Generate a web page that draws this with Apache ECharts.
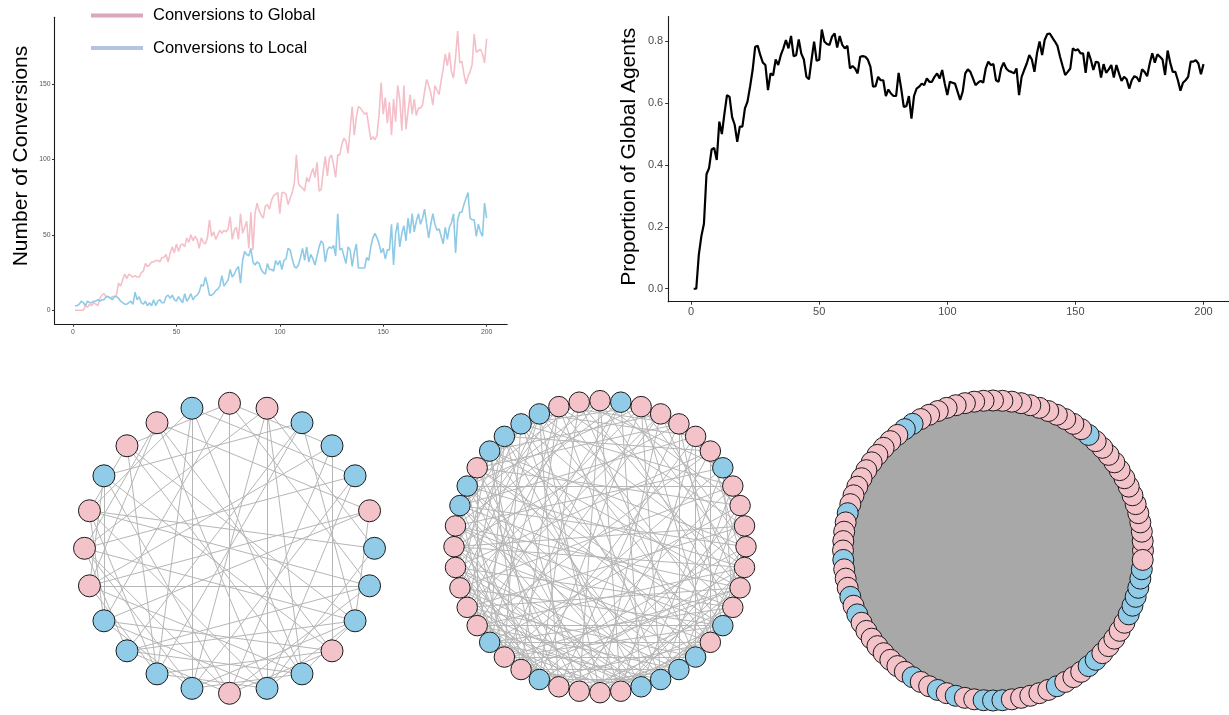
<!DOCTYPE html>
<html>
<head>
<meta charset="utf-8">
<script src="https://cdn.jsdelivr.net/npm/echarts@6/dist/echarts.min.js"></script>
<style>
  html, body { margin: 0; padding: 0; background: #ffffff; }
  #main { width: 1229px; height: 715px; }
</style>
</head>
<body>
<div id="main"></div>
<script>
// ---- time series (one value per simulation step, steps 1..200) ----
const steps = Array.from({ length: 200 }, (_, i) => i + 1);

const toGlobal = [
  0, 0, 0, 0, 0, 3, 2, 4, 3, 5,
  4, 3, 8, 10, 11, 9, 9, 8, 9, 9,
  10, 18, 16, 20, 24, 21, 24, 23, 22, 23,
  22, 22, 25, 26, 31, 29, 30, 32, 32, 33,
  33, 32, 35, 35, 37, 32, 38, 42, 38, 44,
  39, 43, 44, 42, 48, 45, 50, 46, 49, 47,
  41, 48, 45, 44, 48, 60, 49, 52, 47, 50,
  53, 51, 53, 52, 54, 62, 47, 53, 55, 47,
  64, 51, 55, 59, 41, 65, 40, 64, 71, 66,
  63, 61, 69, 70, 67, 73, 76, 77, 78, 64,
  78, 78, 77, 70, 74, 78, 84, 103, 84, 82,
  81, 79, 88, 85, 90, 94, 88, 98, 79, 80,
  92, 102, 89, 101, 103, 96, 88, 103, 103, 110,
  114, 112, 104, 120, 135, 116, 128, 135, 134, 132,
  130, 131, 122, 113, 115, 113, 116, 130, 151, 130,
  141, 124, 138, 116, 140, 125, 149, 140, 119, 149,
  120, 132, 143, 130, 140, 129, 134, 134, 136, 145,
  153, 149, 144, 136, 149, 146, 143, 152, 160, 170,
  162, 171, 158, 154, 168, 185, 164, 165, 157, 150,
  155, 158, 163, 183, 171, 172, 173, 170, 164, 180
];

const toLocal = [
  3, 3, 4, 6, 5, 3, 6, 5, 5, 6,
  6, 7, 6, 7, 7, 9, 9, 8, 7, 9,
  9, 8, 6, 5, 4, 4, 5, 6, 4, 12,
  7, 9, 5, 4, 6, 3, 5, 3, 7, 3,
  6, 7, 5, 5, 9, 10, 8, 10, 7, 6,
  9, 7, 5, 11, 6, 8, 11, 7, 9, 10,
  12, 17, 16, 22, 17, 10, 10, 11, 13, 14,
  16, 23, 16, 18, 20, 27, 22, 24, 27, 29,
  18, 33, 39, 37, 36, 41, 32, 30, 32, 31,
  27, 25, 24, 31, 27, 27, 26, 33, 30, 33,
  27, 33, 34, 41, 40, 34, 29, 28, 30, 35,
  41, 33, 42, 32, 37, 34, 30, 36, 42, 46,
  44, 32, 40, 42, 41, 43, 36, 64, 40, 41,
  36, 31, 42, 40, 29, 38, 44, 28, 28, 28,
  28, 35, 33, 42, 48, 51, 48, 44, 38, 41,
  34, 40, 40, 57, 30, 51, 58, 42, 51, 56,
  46, 61, 51, 64, 52, 59, 64, 57, 61, 67,
  57, 48, 57, 64, 57, 53, 54, 49, 44, 55,
  47, 55, 58, 64, 38, 60, 65, 65, 70, 74,
  78, 61, 60, 60, 49, 57, 52, 49, 71, 61
];

const globalShare = [
  0, 0, 0.11, 0.17, 0.21, 0.37, 0.39, 0.45, 0.455, 0.416,
  0.54, 0.5, 0.566, 0.626, 0.62, 0.555, 0.53, 0.475, 0.524, 0.524,
  0.583, 0.605, 0.653, 0.707, 0.782, 0.785, 0.755, 0.731, 0.723, 0.642,
  0.696, 0.69, 0.741, 0.723, 0.755, 0.777, 0.804, 0.777, 0.817, 0.752,
  0.755, 0.806, 0.76, 0.741, 0.685, 0.677, 0.74, 0.799, 0.737, 0.74,
  0.838, 0.799, 0.791, 0.788, 0.815, 0.825, 0.78, 0.817, 0.788, 0.777,
  0.785, 0.712, 0.72, 0.712, 0.696, 0.75, 0.752, 0.75, 0.74, 0.717,
  0.653, 0.655, 0.685, 0.674, 0.674, 0.623, 0.644, 0.631, 0.623, 0.623,
  0.698, 0.647, 0.588, 0.59, 0.623, 0.55, 0.623, 0.647, 0.653, 0.663,
  0.658, 0.68, 0.669, 0.669, 0.685, 0.696, 0.68, 0.707, 0.663, 0.626,
  0.669, 0.666, 0.663, 0.637, 0.61, 0.637, 0.696, 0.709, 0.701, 0.68,
  0.658, 0.666, 0.672, 0.666, 0.712, 0.734, 0.723, 0.726, 0.674, 0.669,
  0.712, 0.731, 0.712, 0.704, 0.701, 0.696, 0.712, 0.626, 0.685, 0.707,
  0.728, 0.755, 0.741, 0.701, 0.761, 0.799, 0.755, 0.804, 0.823, 0.825,
  0.812, 0.799, 0.785, 0.75, 0.72, 0.691, 0.701, 0.712, 0.777, 0.77,
  0.774, 0.761, 0.761, 0.698, 0.766, 0.741, 0.707, 0.734, 0.731, 0.683,
  0.726, 0.698, 0.709, 0.723, 0.683, 0.723, 0.696, 0.672, 0.685, 0.677,
  0.647, 0.674, 0.687, 0.683, 0.669, 0.709, 0.701, 0.687, 0.728, 0.761,
  0.731, 0.758, 0.75, 0.741, 0.691, 0.77, 0.731, 0.701, 0.701, 0.674,
  0.64, 0.666, 0.674, 0.685, 0.734, 0.734, 0.739, 0.728, 0.693, 0.726
];

const stepTicks = [0, 50, 100, 150, 200];
const conversionTicks = [0, 50, 100, 150];
const shareTicks = [0, 0.2, 0.4, 0.6, 0.8];

// ---- networks: agent types around each ring, counter-clockwise from 3 o'clock ----
// G = global agent, L = local agent
const ringSmall = 'LGLLLGGLGGLGGGLLLLGLLGLL';
const ringMedium = 'GGGGLGGGGGLGGGLLLLGLLGGGGGGLGGLGGGGLLLLGLGGG';
const ringLarge =
  'GGGGGGGGGG' + 'GGGGLGGGGG' + 'GGGGGGGGGG' + 'GGGGLLGGGG' + 'GGGGGGLGGG' +
  'GLGGGLGLGG' + 'GGGGGGLGGL' + 'GLGGLLLGGG' + 'GGLGGGLLGG' + 'GGGLLLLLLG';

// neighbour lists (each entry lists higher-numbered agents linked to agent i)
const edgesSmall = [
  [5, 11, 19], [8, 13, 14, 22], [7, 12, 17, 19], [6, 13, 18, 21],
  [10, 15, 16, 22], [12, 17, 19, 20], [9, 14, 18, 23], [11, 16, 17, 20],
  [12, 13, 19, 21], [11, 16, 20, 22], [13, 14, 18, 21], [14, 16, 19, 23],
  [15, 17, 18, 22], [16, 20, 23], [17, 19, 21], [18, 20, 22, 23],
  [19, 21], [20, 22], [21, 23], [22], [22]
];

const edgesMedium = [
  [3, 9, 17, 20, 29, 34, 38], [6, 13, 22, 25, 31, 40], [5, 11, 18, 27, 33, 37, 42],
  [7, 15, 19, 24, 30, 36], [8, 12, 21, 28, 35, 41], [9, 16, 23, 26, 32, 39, 43],
  [10, 14, 20, 29, 34, 38], [13, 18, 22, 31, 37, 40], [11, 17, 25, 27, 33, 42],
  [15, 19, 24, 30, 36, 39], [12, 21, 26, 28, 35, 43], [14, 20, 23, 32, 34, 41],
  [16, 19, 25, 30, 38, 42], [17, 22, 27, 29, 36, 40], [18, 24, 26, 31, 33, 39, 43],
  [21, 23, 28, 34, 37, 41], [20, 25, 27, 32, 35, 38], [19, 24, 29, 30, 36, 42],
  [22, 26, 31, 33, 39, 40], [23, 28, 32, 35, 37, 43], [24, 27, 30, 34, 36, 41],
  [25, 29, 31, 38, 40, 42], [24, 28, 30, 33, 35, 39, 43], [26, 30, 32, 35, 37, 41],
  [27, 29, 31, 34, 36, 40], [28, 31, 33, 35, 38, 42], [29, 32, 35, 37, 40, 43],
  [30, 32, 34, 36, 39, 41], [31, 33, 38, 40, 42], [32, 35, 37, 42],
  [33, 36, 39, 43], [34, 37, 41], [35, 38, 40], [36, 39, 42],
  [37, 40, 43], [38, 41], [39, 42], [40, 43], [41], [42], [43]
];

const FONT = "'Liberation Sans', Helvetica, Arial, sans-serif";
const GLOBAL_FILL = '#f4c3ca';
const LOCAL_FILL = '#90cce8';

function linksFromLists(lists) {
  const out = [];
  lists.forEach((targets, i) => targets.forEach(j => out.push({ source: i, target: j })));
  return out;
}

// the large ring is a fully connected network: every agent is linked to every other
function fullLinks(n) {
  const out = [];
  for (let i = 0; i < n; i++) for (let j = i + 1; j < n; j++) out.push({ source: i, target: j });
  return out;
}

function ringSeries(types, links, polarIndex, size, edgeColor) {
  return {
    type: 'graph',
    coordinateSystem: 'polar',
    polarIndex: polarIndex,
    symbol: 'circle',
    symbolSize: size,
    silent: true,
    animation: false,
    data: types.split('').map((c, i) => ({
      name: 'agent' + i,
      value: [1, i],
      itemStyle: { color: c === 'G' ? GLOBAL_FILL : LOCAL_FILL }
    })),
    links: links,
    itemStyle: { borderColor: '#1a1a1a', borderWidth: 1 },
    lineStyle: { color: edgeColor, width: 1, opacity: 1, curveness: 0 },
    label: { show: false },
    emphasis: { disabled: true }
  };
}

function ringPolar(center, radius) {
  return { center: center, radius: radius };
}

function hiddenAngle(polarIndex, n) {
  return { polarIndex, type: 'value', min: 0, max: n, startAngle: 0, clockwise: false, show: false };
}
function hiddenRadius(polarIndex) {
  return { polarIndex, type: 'value', min: 0, max: 1, show: false };
}

const axisLineStyle = { color: '#1a1a1a', width: 1.1 };

const option = {
  animation: false,
  backgroundColor: '#ffffff',
  textStyle: { fontFamily: FONT },
  legend: {
    orient: 'vertical',
    left: 91,
    top: 5.5,
    padding: 0,
    icon: 'rect',
    itemWidth: 52,
    itemHeight: 4,
    itemGap: 12.5,
    selectedMode: false,
    textStyle: { fontSize: 16.5, color: '#000', fontFamily: FONT, lineHeight: 20, padding: [0, 0, 0, 5] },
    data: [
      { name: 'Conversions to Global', itemStyle: { color: '#dba6be' } },
      { name: 'Conversions to Local', itemStyle: { color: '#b4c3e4' } }
    ]
  },
  grid: [
    { left: 54.5, top: 17.2, width: 452.7, height: 307, containLabel: false },
    { left: 668.2, top: 16.5, width: 564.4, height: 285.2, containLabel: false }
  ],
  xAxis: [
    {
      gridIndex: 0, type: 'value', min: -8.95, max: 209.95,
      axisLine: { show: true, onZero: false, lineStyle: axisLineStyle },
      axisTick: { show: true, length: 2.5, customValues: stepTicks, lineStyle: { color: '#333' } },
      axisLabel: { customValues: stepTicks, fontSize: 6.8, color: '#555', margin: 4, fontFamily: FONT },
      splitLine: { show: false }
    },
    {
      gridIndex: 1, type: 'value', min: -8.95, max: 209.95,
      axisLine: { show: true, onZero: false, lineStyle: axisLineStyle },
      axisTick: { show: true, length: 3, customValues: stepTicks, lineStyle: { color: '#333' } },
      axisLabel: { customValues: stepTicks, fontSize: 11, color: '#4d4d4d', margin: 4.5, fontFamily: FONT },
      splitLine: { show: false }
    }
  ],
  yAxis: [
    {
      gridIndex: 0, type: 'value', min: -9.25, max: 194.25,
      axisLine: { show: true, onZero: false, lineStyle: axisLineStyle },
      axisTick: { show: true, length: 2.5, customValues: conversionTicks, lineStyle: { color: '#333' } },
      axisLabel: { customValues: conversionTicks, fontSize: 6.8, color: '#555', margin: 4, fontFamily: FONT },
      splitLine: { show: false }
    },
    {
      gridIndex: 1, type: 'value', min: -0.0419, max: 0.88,
      axisLine: { show: true, onZero: false, lineStyle: axisLineStyle },
      axisTick: { show: true, length: 3, customValues: shareTicks, lineStyle: { color: '#333' } },
      axisLabel: {
        customValues: shareTicks, fontSize: 11, color: '#4d4d4d', margin: 5, fontFamily: FONT,
        formatter: v => Number(v).toFixed(1)
      },
      splitLine: { show: false }
    }
  ],
  polar: [
    ringPolar([229.5, 548.3], 145),
    ringPolar([600, 546.7], 146),
    ringPolar([993, 550.5], 150)
  ],
  angleAxis: [hiddenAngle(0, ringSmall.length), hiddenAngle(1, ringMedium.length), hiddenAngle(2, ringLarge.length)],
  radiusAxis: [hiddenRadius(0), hiddenRadius(1), hiddenRadius(2)],
  graphic: [
    {
      type: 'text', x: 21, y: 156, rotation: Math.PI / 2,
      style: { text: 'Number of Conversions', fontSize: 21, fontFamily: FONT, fill: '#000', align: 'center', verticalAlign: 'middle' }
    },
    {
      type: 'text', x: 629, y: 156.7, rotation: Math.PI / 2,
      style: { text: 'Proportion of Global Agents', fontSize: 21, fontFamily: FONT, fill: '#000', align: 'center', verticalAlign: 'middle' }
    }
  ],
  series: [
    {
      name: 'Conversions to Global', type: 'line', xAxisIndex: 0, yAxisIndex: 0,
      data: steps.map((t, i) => [t, toGlobal[i]]),
      showSymbol: false, symbol: 'none', silent: true,
      lineStyle: { color: '#f5bfc9', width: 1.6 }, itemStyle: { color: '#f5bfc9' }
    },
    {
      name: 'Conversions to Local', type: 'line', xAxisIndex: 0, yAxisIndex: 0,
      data: steps.map((t, i) => [t, toLocal[i]]),
      showSymbol: false, symbol: 'none', silent: true,
      lineStyle: { color: '#8ecae6', width: 1.6 }, itemStyle: { color: '#8ecae6' }
    },
    {
      name: 'Proportion of Global Agents', type: 'line', xAxisIndex: 1, yAxisIndex: 1,
      data: steps.map((t, i) => [t, globalShare[i]]),
      showSymbol: false, symbol: 'none', silent: true,
      lineStyle: { color: '#000000', width: 2.2 }, itemStyle: { color: '#000000' }
    },
    ringSeries(ringSmall, linksFromLists(edgesSmall), 0, 22, '#b6b6b6'),
    ringSeries(ringMedium, linksFromLists(edgesMedium), 1, 20.5, '#b6b6b6'),
    ringSeries(ringLarge, fullLinks(ringLarge.length), 2, 21, '#a8a8a8')
  ]
};

const chart = echarts.init(document.getElementById('main'), null, { renderer: 'canvas' });
chart.setOption(option);
</script>
</body>
</html>
